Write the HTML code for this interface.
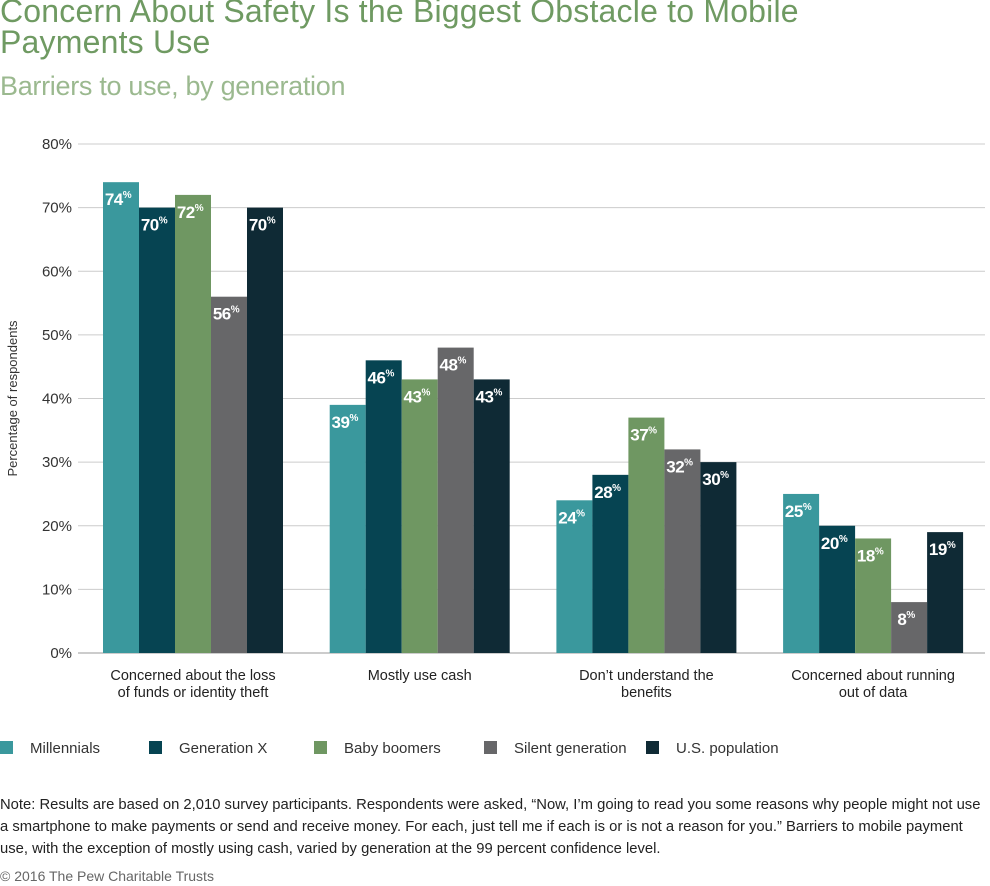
<!DOCTYPE html>
<html><head><meta charset="utf-8"><style>
body{margin:0;background:#fff;font-family:"Liberation Sans",sans-serif;}
#wrap{position:relative;width:990px;height:886px;overflow:hidden;}
.t{position:absolute;margin:0;font-weight:normal;}
</style></head><body>
<div id="wrap">
<h1 class="t" style="left:0;top:-4px;font-size:32px;line-height:31px;color:#6f9a62;letter-spacing:0.2px">Concern About Safety Is the Biggest Obstacle to Mobile<br>Payments Use</h1>
<h2 class="t" style="left:0;top:71px;font-size:27px;color:#9bb98f;letter-spacing:-0.3px">Barriers to use, by generation</h2>
<svg id="chart" width="990" height="740" style="position:absolute;left:0;top:100px"></svg>
<div class="t" style="left:0;top:794px;font-size:14.8px;line-height:22px;color:#222;width:990px">Note: Results are based on 2,010 survey participants. Respondents were asked, “Now, I’m going to read you some reasons why people might not use a smartphone to make payments or send and receive money. For each, just tell me if each is or is not a reason for you.” Barriers to mobile payment use, with the exception of mostly using cash, varied by generation at the 99 percent confidence level.</div>
<div class="t" style="left:0;top:868px;font-size:14px;color:#666">© 2016 The Pew Charitable Trusts</div>
</div>
<script>
const categories=[["Concerned about the loss","of funds or identity theft"],["Mostly use cash"],["Don’t understand the","benefits"],["Concerned about running","out of data"]];
const seriesNames=["Millennials","Generation X","Baby boomers","Silent generation","U.S. population"];
const millennials=[74,39,24,25];
const genX=[70,46,28,20];
const boomers=[72,43,37,18];
const silent=[56,48,32,8];
const usPop=[70,43,30,19];
const yTicks=[0,10,20,30,40,50,60,70,80];
const colors=["#3a989d","#064452","#6f9762","#676769","#0f2a35"];
const series=[millennials,genX,boomers,silent,usPop];
const NS="http://www.w3.org/2000/svg";
const svg=document.getElementById('chart');
const OY=100;
function y(v){return 653-OY-v*6.3625;}
function gx(i){return 103+i*226.7;}
const bw=36;
function mk(tag,attrs,parent){const e=document.createElementNS(NS,tag);for(const k in attrs)e.setAttribute(k,attrs[k]);(parent||svg).appendChild(e);return e;}
yTicks.forEach(t=>{
 const l=mk('line',{x1:78,x2:985,y1:y(t),y2:y(t),stroke:t===0?'#999':'#ccc','stroke-width':1});
 
 
 const tx=mk('text',{x:72,y:y(t)+5,'text-anchor':'end','font-size':15,fill:'#333','font-family':'Liberation Sans, sans-serif'});
 tx.textContent=t+'%';
 
 
});
const yt=mk('text',{transform:`translate(17,${y(40)}) rotate(-90)`,'text-anchor':'middle','font-size':13,fill:'#333','font-family':'Liberation Sans, sans-serif'});
yt.textContent='Percentage of respondents';


categories.forEach((c,i)=>{
 series.forEach((s,j)=>{
  const v=s[i];const x=gx(i)+j*bw;
  const r=mk('rect',{x:x,y:y(v),width:bw,height:y(0)-y(v),fill:colors[j]});
  
  
  const t=mk('text',{x:x+bw/2-3,y:y(v)+23,'text-anchor':'middle','font-size':17,'font-weight':'bold',fill:'#fff','font-family':'Liberation Sans, sans-serif','letter-spacing':'-0.5'});
  t.textContent=v;
  const sp=mk('tspan',{'font-size':10,dy:-7},t);sp.textContent='%';
  
  
 });
 const cx=gx(i)+bw*2.5;
 c.forEach((line,k)=>{
  const t=mk('text',{x:cx,y:y(0)+27+k*17,'text-anchor':'middle','font-size':14.5,fill:'#222','font-family':'Liberation Sans, sans-serif'});
  t.textContent=line;
  
  
 });
});
const lx=[0,149,314,484,646];
seriesNames.forEach((n,j)=>{
 const r=mk('rect',{x:lx[j],y:641,width:13,height:13,fill:colors[j]});
 
 
 const t=mk('text',{x:lx[j]+30,y:653,'font-size':15,fill:'#333','font-family':'Liberation Sans, sans-serif'});
 t.textContent=n;
 
 
});
</script>
</body></html>
